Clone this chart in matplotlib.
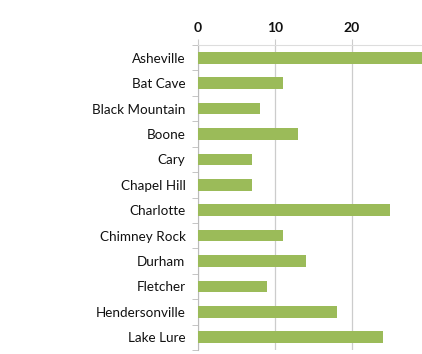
import numpy as np
import matplotlib.pyplot as plt

cities = ["Asheville", "Bat Cave", "Black Mountain", "Boone", "Cary", "Chapel Hill",
          "Charlotte", "Chimney Rock", "Durham", "Fletcher", "Hendersonville", "Lake Lure"]
counts = [32, 11, 8, 13, 7, 7, 25, 11, 14, 9, 18, 24]
xticks = [0, 10, 20]

plt.rcParams['font.family'] = ['Lato', 'DejaVu Sans']

fig = plt.figure(figsize=(4.22, 3.54), dpi=100)
ax = fig.add_axes([198 / 422, 1 - 350 / 354, 1 - 198 / 422, 305 / 354])

y = np.arange(len(cities))
ax.barh(y, counts, height=0.46, color="#9BBB59", zorder=3)

ax.set_ylim(len(cities) - 0.5, -0.5)
ax.set_xlim(0, 29.1)
ax.set_yticks(y)
ax.set_yticklabels(cities, fontsize=9.7, color="#111111")
ax.set_yticks(np.arange(len(cities) + 1) - 0.5, minor=True)
ax.tick_params(axis="y", which="major", length=0, pad=9)
ax.tick_params(axis="y", which="minor", length=4, color="#bbbbbb", direction="out")

ax.xaxis.tick_top()
ax.set_xticks(xticks)
ax.set_xticklabels([str(t) for t in xticks], fontsize=10, fontweight="bold", color="#111111")
ax.tick_params(axis="x", length=4, color="#cccccc", pad=4)
ax.grid(axis="x", color="#cccccc", linewidth=0.9, zorder=0)

for s in ["right", "bottom"]:
    ax.spines[s].set_visible(False)
ax.spines["left"].set_color("#bbbbbb")
ax.spines["top"].set_color("#dddddd")

fig.savefig("out.png", dpi=100)
